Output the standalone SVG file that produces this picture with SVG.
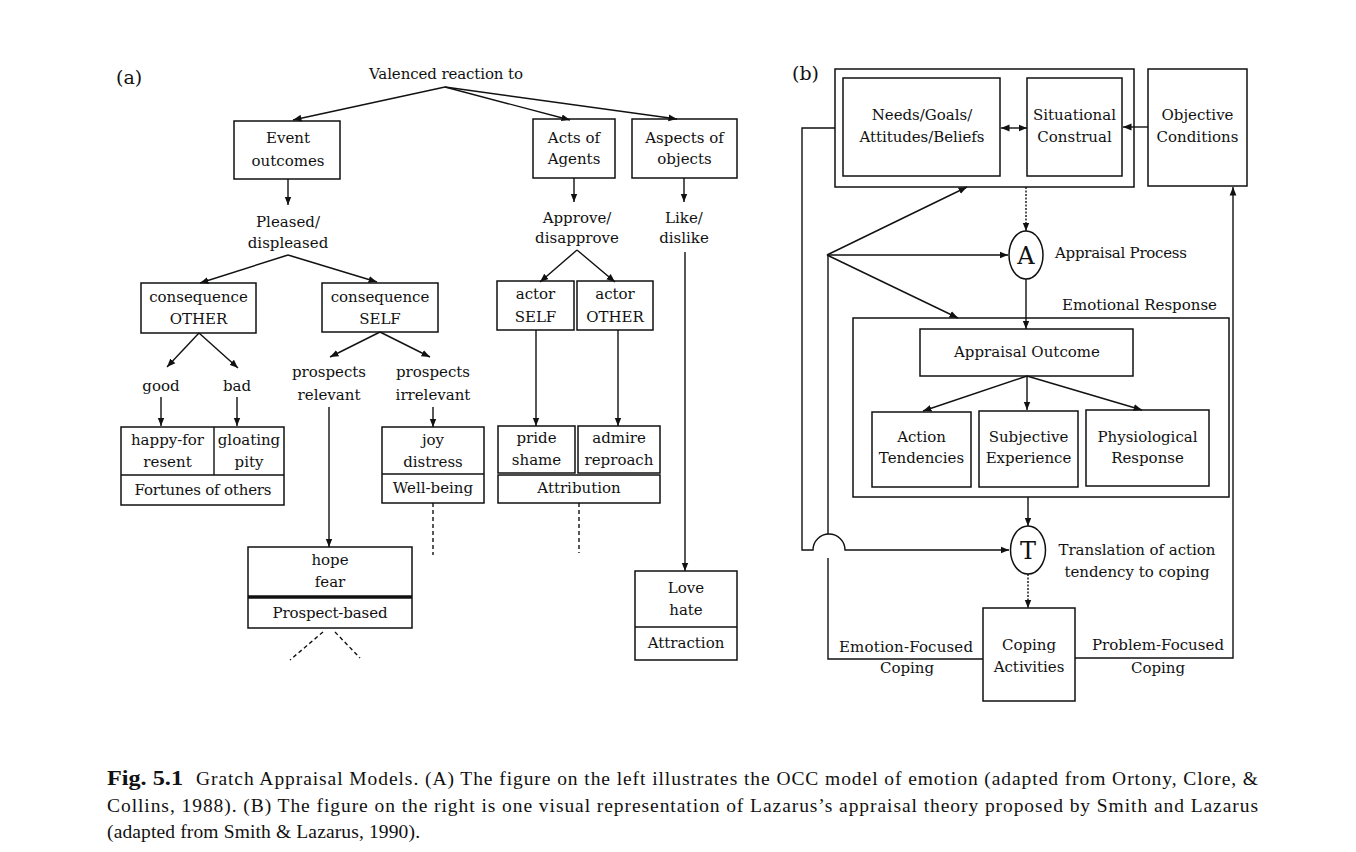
<svg xmlns="http://www.w3.org/2000/svg" width="1356" height="852" viewBox="0 0 1356 852">
<defs>
<style>
.t{font-family:"DejaVu Serif","Liberation Serif",serif;font-size:15px;fill:#111;text-anchor:middle}
.s{text-anchor:start}
.lbl{font-family:"DejaVu Serif","Liberation Serif",serif;font-size:19px;fill:#111}
.cap{font-family:"Liberation Serif","DejaVu Serif",serif;font-size:19.5px;fill:#111}
.box{fill:none;stroke:#111;stroke-width:1.5}
.ln{fill:none;stroke:#111;stroke-width:1.4}
.dash{stroke-dasharray:4 3}
.dot{stroke-dasharray:2 1.5}
</style>
<marker id="ah" viewBox="0 0 10 10" refX="10" refY="5" markerWidth="8.5" markerHeight="8.5" markerUnits="userSpaceOnUse" orient="auto-start-reverse">
<path d="M0,1 L10,5 L0,9 z" fill="#111"/>
</marker>
</defs>
<rect width="1356" height="852" fill="#fff"/>

<!-- Panel (a) labels -->
<text class="lbl" x="116" y="84">(a)</text>
<text class="t" x="446" y="79" textLength="154">Valenced reaction to</text>

<g id="connectors-a">
<path class="ln" d="M445,87 L293,120" marker-end="url(#ah)"/>
<path class="ln" d="M445,87 L570,120" marker-end="url(#ah)"/>
<path class="ln" d="M445,87 L677,119" marker-end="url(#ah)"/>
<path class="ln" d="M288,179 L288,205" marker-end="url(#ah)"/>
<path class="ln" d="M288,255 L200,283" marker-end="url(#ah)"/>
<path class="ln" d="M288,255 L377,282" marker-end="url(#ah)"/>
<path class="ln" d="M199,333 L167,367" marker-end="url(#ah)"/>
<path class="ln" d="M199,333 L238,368" marker-end="url(#ah)"/>
<path class="ln" d="M161,397 L161,426" marker-end="url(#ah)"/>
<path class="ln" d="M237,397 L237,426" marker-end="url(#ah)"/>
<path class="ln" d="M380,332 L330,357" marker-end="url(#ah)"/>
<path class="ln" d="M380,332 L430,357" marker-end="url(#ah)"/>
<path class="ln" d="M329,407 L329,547" marker-end="url(#ah)"/>
<path class="ln" d="M433,407 L433,427" marker-end="url(#ah)"/>
<path class="ln dash" d="M433,503 L433,555"/>
<path class="ln dash" d="M323,632 L290,660"/>
<path class="ln dash" d="M335,632 L360,658"/>
<path class="ln" d="M574,178 L574,202" marker-end="url(#ah)"/>
<path class="ln" d="M684,178 L684,202" marker-end="url(#ah)"/>
<path class="ln" d="M577,250 L540,282" marker-end="url(#ah)"/>
<path class="ln" d="M577,250 L615,282" marker-end="url(#ah)"/>
<path class="ln" d="M536,330 L536,426" marker-end="url(#ah)"/>
<path class="ln" d="M618,330 L618,426" marker-end="url(#ah)"/>
<path class="ln dash" d="M579,503 L579,553"/>
<path class="ln" d="M685,252 L685,571" marker-end="url(#ah)"/>
</g>

<g id="event-outcomes">
<rect class="box" x="234" y="121" width="106" height="58"/>
<text class="t" x="288" y="143">Event</text>
<text class="t" x="288" y="166">outcomes</text>
</g>
<g id="pleased">
<text class="t" x="288" y="227">Pleased/</text>
<text class="t" x="288" y="248">displeased</text>
</g>
<g id="consequence-other">
<rect class="box" x="141" y="283" width="115" height="50"/>
<text class="t" x="198.5" y="302">consequence</text>
<text class="t" x="198.5" y="324">OTHER</text>
</g>
<g id="consequence-self">
<rect class="box" x="322" y="283" width="116" height="49"/>
<text class="t" x="380" y="302">consequence</text>
<text class="t" x="380" y="324">SELF</text>
</g>
<g id="good"><text class="t" x="161" y="391">good</text></g>
<g id="bad"><text class="t" x="237" y="391">bad</text></g>
<g id="prospects-relevant">
<text class="t" x="329" y="377">prospects</text>
<text class="t" x="329" y="400">relevant</text>
</g>
<g id="prospects-irrelevant">
<text class="t" x="433" y="377">prospects</text>
<text class="t" x="433" y="400">irrelevant</text>
</g>
<g id="fortunes">
<rect class="box" x="121" y="427" width="163" height="78"/>
<path class="ln" d="M121,475 L284,475 M214,427 L214,475"/>
<text class="t" x="167.5" y="445">happy-for</text>
<text class="t" x="167.5" y="467">resent</text>
<text class="t" x="249" y="445">gloating</text>
<text class="t" x="249" y="467">pity</text>
<text class="t" x="203" y="495" textLength="137">Fortunes of others</text>
</g>
<g id="well-being">
<rect class="box" x="382" y="427" width="102" height="76"/>
<path class="ln" d="M382,474 L484,474"/>
<text class="t" x="433" y="445">joy</text>
<text class="t" x="433" y="467">distress</text>
<text class="t" x="433" y="493">Well-being</text>
</g>
<g id="prospect-based">
<rect class="box" x="248" y="547" width="164" height="81"/>
<path d="M248,597 L412,597" stroke="#111" stroke-width="3.5"/>
<text class="t" x="330" y="565">hope</text>
<text class="t" x="330" y="587">fear</text>
<text class="t" x="330" y="618" textLength="115">Prospect-based</text>
</g>
<g id="acts-of-agents">
<rect class="box" x="533" y="119" width="82" height="59"/>
<text class="t" x="574" y="143">Acts of</text>
<text class="t" x="574" y="164">Agents</text>
</g>
<g id="aspects-of-objects">
<rect class="box" x="632" y="119" width="105" height="59"/>
<text class="t" x="684.5" y="143">Aspects of</text>
<text class="t" x="684.5" y="164">objects</text>
</g>
<g id="approve">
<text class="t" x="577" y="223">Approve/</text>
<text class="t" x="577" y="243">disapprove</text>
</g>
<g id="like">
<text class="t" x="684" y="223">Like/</text>
<text class="t" x="684" y="243">dislike</text>
</g>
<g id="actor-self">
<rect class="box" x="497" y="281" width="77" height="49"/>
<text class="t" x="535.5" y="299">actor</text>
<text class="t" x="535.5" y="322">SELF</text>
</g>
<g id="actor-other">
<rect class="box" x="577" y="281" width="76" height="49"/>
<text class="t" x="615" y="299">actor</text>
<text class="t" x="615" y="322">OTHER</text>
</g>
<g id="attribution">
<rect class="box" x="498" y="426" width="77" height="47"/>
<rect class="box" x="578" y="426" width="82" height="47"/>
<rect class="box" x="498" y="475" width="162" height="28"/>
<text class="t" x="536.5" y="443">pride</text>
<text class="t" x="536.5" y="465">shame</text>
<text class="t" x="619" y="443">admire</text>
<text class="t" x="619" y="465">reproach</text>
<text class="t" x="579" y="493">Attribution</text>
</g>
<g id="attraction">
<rect class="box" x="635" y="571" width="102" height="89"/>
<path class="ln" d="M635,627 L737,627"/>
<text class="t" x="686" y="593">Love</text>
<text class="t" x="686" y="615">hate</text>
<text class="t" x="686" y="648">Attraction</text>
</g>

<!-- Panel (b) -->
<text class="lbl" x="792" y="80">(b)</text>

<g id="connectors-b">
<path class="ln" d="M835,128 L802,128 L802,550 L813,550 A16,16 0 0 1 845,550 L1009,550" marker-end="url(#ah)"/>
<path class="ln" d="M828,534 L828,255"/>
<path class="ln" d="M828,558 L828,659 L983,659"/>
<path class="ln" d="M827,255 L967,187" marker-end="url(#ah)"/>
<path class="ln" d="M827,255 L1008,255" marker-end="url(#ah)"/>
<path class="ln" d="M827,255 L958,318" marker-end="url(#ah)"/>
<path class="ln" d="M1001,128 L1027,128" marker-start="url(#ah)" marker-end="url(#ah)"/>
<path class="ln" d="M1148,127 L1123,127" marker-end="url(#ah)"/>
<path class="ln dot" d="M1026,187 L1026,231" marker-end="url(#ah)"/>
<path class="ln" d="M1026,279 L1026,329" marker-end="url(#ah)"/>
<path class="ln" d="M1027,376 L923,411" marker-end="url(#ah)"/>
<path class="ln" d="M1027,376 L1027,410" marker-end="url(#ah)"/>
<path class="ln" d="M1027,376 L1142,410" marker-end="url(#ah)"/>
<path class="ln" d="M1028,497 L1028,526" marker-end="url(#ah)"/>
<path class="ln dot" d="M1028,574 L1028,608" marker-end="url(#ah)"/>
<path class="ln" d="M1075,658 L1233,658 L1233,187" marker-end="url(#ah)"/>
</g>

<g id="cognitive-box">
<rect class="box" x="835" y="69" width="299" height="118"/>
</g>
<g id="needs-goals">
<rect class="box" x="843" y="78" width="157" height="98"/>
<text class="t" x="922" y="120">Needs/Goals/</text>
<text class="t" x="922" y="142" textLength="125">Attitudes/Beliefs</text>
</g>
<g id="situational-construal">
<rect class="box" x="1027" y="78" width="95" height="98"/>
<text class="t" x="1074.5" y="120">Situational</text>
<text class="t" x="1074.5" y="142">Construal</text>
</g>
<g id="objective-conditions">
<rect class="box" x="1148" y="69" width="99" height="117"/>
<text class="t" x="1197.5" y="120">Objective</text>
<text class="t" x="1197.5" y="142">Conditions</text>
</g>
<g id="appraisal-process">
<ellipse class="box" cx="1026" cy="255" rx="17" ry="24"/>
<text class="t" x="1026" y="264" style="font-size:24px">A</text>
<text class="t s" x="1055" y="258" textLength="132">Appraisal Process</text>
</g>
<g id="emotional-response">
<rect class="box" x="853" y="318" width="376" height="179"/>
<text class="t s" x="1062" y="310" textLength="155">Emotional Response</text>
</g>
<g id="appraisal-outcome">
<rect class="box" x="920" y="329" width="213" height="47"/>
<text class="t" x="1027" y="357" textLength="146">Appraisal Outcome</text>
</g>
<g id="action-tendencies">
<rect class="box" x="872" y="412" width="99" height="75"/>
<text class="t" x="921.5" y="442">Action</text>
<text class="t" x="921.5" y="463">Tendencies</text>
</g>
<g id="subjective-experience">
<rect class="box" x="979" y="411" width="99" height="76"/>
<text class="t" x="1028.5" y="442">Subjective</text>
<text class="t" x="1028.5" y="463">Experience</text>
</g>
<g id="physiological-response">
<rect class="box" x="1086" y="410" width="123" height="76"/>
<text class="t" x="1147.5" y="442">Physiological</text>
<text class="t" x="1147.5" y="463">Response</text>
</g>
<g id="translation">
<ellipse class="box" cx="1028" cy="550" rx="17.5" ry="24"/>
<text class="t" x="1028" y="559" style="font-size:24px">T</text>
<text class="t" x="1137" y="555" textLength="157">Translation of action</text>
<text class="t" x="1137" y="577" textLength="145">tendency to coping</text>
</g>
<g id="coping-activities">
<rect class="box" x="983" y="608" width="92" height="93"/>
<text class="t" x="1029" y="650">Coping</text>
<text class="t" x="1029" y="672">Activities</text>
</g>
<g id="emotion-focused">
<text class="t" x="906" y="652" textLength="134">Emotion-Focused</text>
<text class="t" x="907" y="673">Coping</text>
</g>
<g id="problem-focused">
<text class="t" x="1158" y="650" textLength="132">Problem-Focused</text>
<text class="t" x="1158" y="673">Coping</text>
</g>

<!-- Caption -->
<text class="cap" x="107" y="785" font-weight="bold" style="font-size:21px" textLength="76" lengthAdjust="spacingAndGlyphs">Fig. 5.1</text>
<text class="cap" x="196" y="785" textLength="1062">Gratch Appraisal Models. (A) The figure on the left illustrates the OCC model of emotion (adapted from Ortony, Clore, &amp;</text>
<text class="cap" x="107" y="812" textLength="1151">Collins, 1988). (B) The figure on the right is one visual representation of Lazarus’s appraisal theory proposed by Smith and Lazarus</text>
<text class="cap" x="107" y="838" textLength="313">(adapted from Smith &amp; Lazarus, 1990).</text>
</svg>
